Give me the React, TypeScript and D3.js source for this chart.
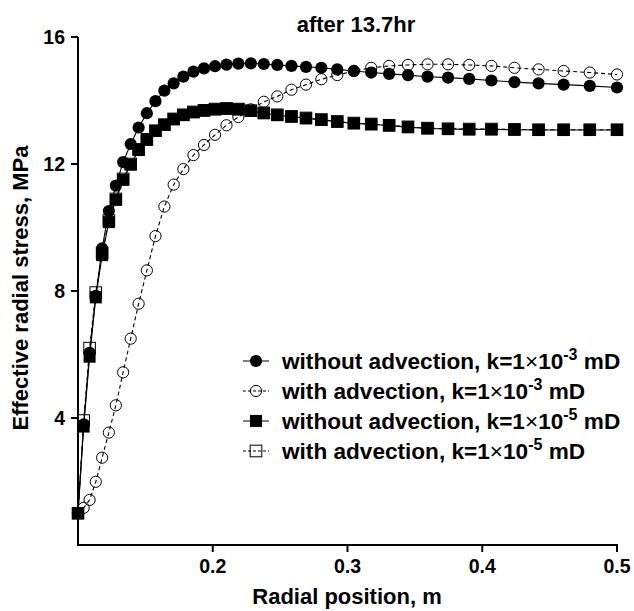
import React from "react";
import * as d3 from "d3";

const radialPosition = [
  0.1, 0.1042, 0.1086, 0.1132, 0.1179, 0.1229, 0.1281, 0.1335, 0.1391, 0.145,
  0.1511, 0.1575, 0.1641, 0.171, 0.1782, 0.1857, 0.1935, 0.2017, 0.2102, 0.219,
  0.2283, 0.2379, 0.2479, 0.2584, 0.2692, 0.2806, 0.2924, 0.3047, 0.3176, 0.3309,
  0.3449, 0.3594, 0.3746, 0.3903, 0.4068, 0.4239, 0.4418, 0.4604, 0.4798, 0.5,
];

const noAdvK3 = [
  1.0, 3.8, 6.05, 7.85, 9.34, 10.52, 11.32, 12.06, 12.63, 13.15,
  13.6, 13.98, 14.31, 14.54, 14.75, 14.91, 15.01, 15.08, 15.13, 15.16,
  15.17, 15.15, 15.12, 15.09, 15.06, 15.03, 14.98, 14.93, 14.88, 14.84,
  14.8, 14.75, 14.72, 14.68, 14.63, 14.58, 14.54, 14.5, 14.46, 14.41,
];

const advK3 = [
  1.0, 1.17, 1.42, 1.99, 2.75, 3.54, 4.4, 5.44, 6.5, 7.6,
  8.65, 9.73, 10.66, 11.35, 11.84, 12.28, 12.6, 12.92, 13.22, 13.48,
  13.72, 13.96, 14.13, 14.34, 14.5, 14.67, 14.8, 14.93, 15.03, 15.09,
  15.12, 15.14, 15.14, 15.12, 15.09, 15.03, 14.98, 14.93, 14.88, 14.82,
];

const noAdvK5 = [
  1.0, 3.73, 5.93, 7.8, 9.13, 10.17, 10.87, 11.5, 11.98, 12.44,
  12.76, 13.04, 13.23, 13.41, 13.54, 13.63, 13.68, 13.72, 13.74, 13.72,
  13.67, 13.6, 13.54, 13.49, 13.44, 13.39, 13.33, 13.28, 13.25, 13.21,
  13.16, 13.12, 13.1, 13.09, 13.09, 13.08, 13.07, 13.07, 13.07, 13.07,
];

const advK5 = [
  1.0, 3.92, 6.2, 7.95, 9.2, 10.22, 10.9, 11.53, 12.0, 12.46,
  12.78, 13.05, 13.24, 13.42, 13.55, 13.64, 13.69, 13.73, 13.75, 13.73,
  13.68, 13.61, 13.55, 13.5, 13.45, 13.4, 13.34, 13.29, 13.26, 13.22,
  13.17, 13.13, 13.11, 13.1, 13.1, 13.09, 13.08, 13.08, 13.08, 13.08,
];

const xTicks = [0.2, 0.3, 0.4, 0.5];
const yTicks = [4, 8, 12, 16];
const titleText = "after 13.7hr";
const xLabel = "Radial position, m";
const yLabel = "Effective radial stress, MPa";

type Series = { name: string; exp: string; values: number[]; marker: "circle" | "square"; filled: boolean; dashed: boolean };

const series: Series[] = [
  { name: "without advection, k=1", exp: "-3", values: noAdvK3, marker: "circle", filled: true, dashed: false },
  { name: "with advection, k=1", exp: "-3", values: advK3, marker: "circle", filled: false, dashed: true },
  { name: "without advection, k=1", exp: "-5", values: noAdvK5, marker: "square", filled: true, dashed: false },
  { name: "with advection, k=1", exp: "-5", values: advK5, marker: "square", filled: false, dashed: true },
];

const FONT = "'Liberation Sans', Arial, Helvetica, sans-serif";

function Marker({ x, y, s }: { x: number; y: number; s: Series }) {
  if (s.marker === "circle") {
    return s.filled ? (
      <circle cx={x} cy={y} r={6.1} fill="#000" />
    ) : (
      <circle cx={x} cy={y} r={5.6} fill="none" stroke="#000" strokeWidth={1} />
    );
  }
  return s.filled ? (
    <rect x={x - 6} y={y - 6} width={12} height={12} fill="#000" />
  ) : (
    <rect x={x - 5.8} y={y - 5.8} width={11.6} height={11.6} fill="none" stroke="#000" strokeWidth={1} />
  );
}

export default function App() {
  const W = 634, H = 611;
  const x = d3.scaleLinear().domain([0.1, 0.5]).range([78, 617]);
  const y = d3.scaleLinear().domain([0, 16]).range([545, 37]);
  const line = d3.line<number>().x((_, i) => x(radialPosition[i])).y((v) => y(v));

  const drawOrder = [1, 0, 3, 2];
  const legendY = [361, 391, 421, 451];

  return (
    <svg width={W} height={H} style={{ position: "absolute", left: 0, top: 0, background: "#fff" }} fontFamily={FONT}>
      <rect width={W} height={H} fill="#fff" />
      {drawOrder.map((si) => {
        const s = series[si];
        return (
          <g key={si}>
            <path d={line(s.values) || ""} fill="none" stroke="#000" strokeWidth={1.1} strokeDasharray={s.dashed ? "4,3" : undefined} />
            {s.values.map((v, i) => (
              <Marker key={i} x={x(radialPosition[i])} y={y(v)} s={s} />
            ))}
          </g>
        );
      })}
      {/* axes */}
      <line x1={78} x2={78} y1={y(16)} y2={546} stroke="#000" strokeWidth={2} />
      <line x1={77} x2={618} y1={545} y2={545} stroke="#000" strokeWidth={2} />
      {yTicks.map((t) => (
        <g key={t}>
          <line x1={71} x2={78} y1={y(t)} y2={y(t)} stroke="#000" strokeWidth={2} />
          <text x={65} y={y(t) + 7} textAnchor="end" fontSize={19.5} fontWeight="bold">{t}</text>
        </g>
      ))}
      {xTicks.map((t) => (
        <g key={t}>
          <line x1={x(t)} x2={x(t)} y1={545} y2={552} stroke="#000" strokeWidth={2} />
          <text x={x(t)} y={573} textAnchor="middle" fontSize={19.5} fontWeight="bold">{t.toFixed(1)}</text>
        </g>
      ))}
      <text x={356} y={32} textAnchor="middle" fontSize={22} fontWeight="bold">{titleText}</text>
      <text x={347} y={604} textAnchor="middle" fontSize={22} fontWeight="bold">{xLabel}</text>
      <text transform="translate(28,288) rotate(-90)" textAnchor="middle" fontSize={22} fontWeight="bold">{yLabel}</text>
      {/* legend */}
      {series.map((s, i) => {
        const cy = legendY[i];
        return (
          <g key={i}>
            <line x1={243} x2={269} y1={cy} y2={cy} stroke="#000" strokeWidth={1} strokeDasharray={s.dashed ? "3,2" : undefined} />
            <Marker x={256} y={cy} s={s} />
            <text x={282} y={cy + 8} fontSize={22.6} fontWeight="bold">
              {s.name}
              <tspan fontWeight="normal">×</tspan>
              10
              <tspan fontSize={16} dy={-9}>{s.exp}</tspan>
              <tspan dy={9}> mD</tspan>
            </text>
          </g>
        );
      })}
    </svg>
  );
}
